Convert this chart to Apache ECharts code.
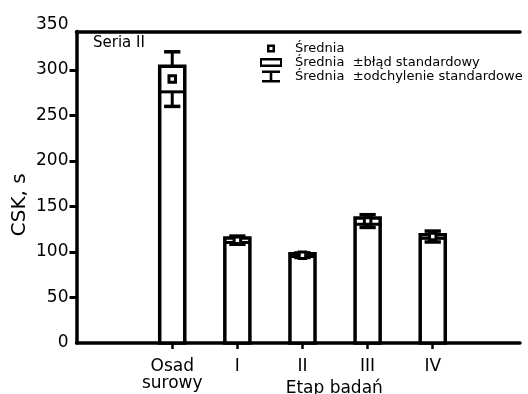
<!DOCTYPE html>
<html><head><meta charset="utf-8">
<script src="https://cdn.jsdelivr.net/npm/echarts@6/dist/echarts.min.js"></script>
<style>html,body{margin:0;padding:0;background:#fff}#c{width:528px;height:394px}</style>
</head><body><div id="c"></div>
<script>
// ---- data ----
const categories = ['Osad\nsurowy', 'I', 'II', 'III', 'IV'];
const means = [290, 113, 96.5, 134, 117];
const stdErrors = [14, 2.5, 1.5, 3.5, 2];
const stdDevs = [30, 4.5, 2.5, 7, 6];
const yTickMarks = [50, 100, 150, 200, 250, 300];
const seriesNames = ['Średnia', 'Średnia  ±błąd standardowy', 'Średnia  ±odchylenie standardowe'];
const panelLabel = 'Seria II';
const yAxisTitle = 'CSK, s';
const xAxisTitle = 'Etap badań';

const FONT = 'DejaVu Sans';
const positions = categories.map((c, i) => i + 1);
const rows = positions.map((p, i) => [p, means[i], stdErrors[i], stdDevs[i]]);

function band(api) { return api.size([1, 0])[0]; }

function renderSE(params, api) {
  const x = api.value(0), m = api.value(1), se = api.value(2);
  const w = band(api) * 0.385;
  const b = api.coord([x, 0]), t = api.coord([x, m + se]), l = api.coord([x, m - se]);
  return { type: 'group', children: [
    { type: 'rect', shape: { x: b[0] - w / 2, y: t[1], width: w, height: b[1] - t[1] },
      style: { fill: '#fff', stroke: '#000', lineWidth: 3.5 } },
    { type: 'line', shape: { x1: b[0] - w / 2, y1: l[1], x2: b[0] + w / 2, y2: l[1] },
      style: { stroke: '#000', lineWidth: 3 } }
  ]};
}
function renderSD(params, api) {
  const x = api.value(0), m = api.value(1), se = api.value(2), sd = api.value(3);
  const cw = band(api) * 0.25;
  const hi = api.coord([x, m + sd]), lo = api.coord([x, m - sd]);
  const bh = api.coord([x, m + se]), bl = api.coord([x, m - se]);
  const cx = hi[0];
  const st = { stroke: '#000', lineWidth: 3 };
  const cap = { stroke: '#000', lineWidth: 3.5 };
  return { type: 'group', children: [
    { type: 'line', shape: { x1: cx, y1: hi[1], x2: cx, y2: bh[1] }, style: st },
    { type: 'line', shape: { x1: cx, y1: bl[1], x2: cx, y2: lo[1] }, style: st },
    { type: 'line', shape: { x1: cx - cw / 2, y1: hi[1], x2: cx + cw / 2, y2: hi[1] }, style: cap },
    { type: 'line', shape: { x1: cx - cw / 2, y1: lo[1], x2: cx + cw / 2, y2: lo[1] }, style: cap }
  ]};
}
function renderMean(params, api) {
  const p = api.coord([api.value(0), api.value(1)]);
  const s = 6.5;
  return { type: 'rect', shape: { x: p[0] - s / 2, y: p[1] - s / 2, width: s, height: s },
    style: { fill: '#fff', stroke: '#000', lineWidth: 3 } };
}

const iconMean = 'path://M0,0M38,12M15,2H23V10H15ZM17.5,4.5V7.5H20.5V4.5Z';
const iconSE = 'path://M0,0M38,12M8,1.5H30V10.5H8ZM10,4V8H28V4Z';
const iconSD = 'path://M0,0M38,12M10,0H28V2.5H20.3V9.5H28V12H10V9.5H17.7V2.5H10Z';

const lineBlack = { color: '#000', width: 3.5 };
const chart = echarts.init(document.getElementById('c'), null, { renderer: 'canvas' });
chart.setOption({
  animation: false,
  backgroundColor: '#fff',
  textStyle: { fontFamily: FONT, color: '#000' },
  title: { text: panelLabel, left: 93, top: 36, padding: 0,
    textStyle: { fontFamily: FONT, fontSize: 15, fontWeight: 'normal', color: '#000' } },
  legend: {
    orient: 'vertical', left: 252, top: 42, padding: 0,
    itemWidth: 38, itemHeight: 12, itemGap: 1, selectedMode: false,
    itemStyle: { color: '#000', borderWidth: 0 },
    textStyle: { fontFamily: FONT, fontSize: 13, lineHeight: 13, color: '#000' },
    data: [
      { name: seriesNames[0], icon: iconMean },
      { name: seriesNames[1], icon: iconSE },
      { name: seriesNames[2], icon: iconSD }
    ]
  },
  grid: [
    { left: 76.5, right: 8, top: 24.5, bottom: 51, outerBoundsMode: 'none', containLabel: false },
    { left: 76.5, right: 8, top: 31.5, bottom: 51, outerBoundsMode: 'none', containLabel: false }
  ],
  xAxis: [
    { gridIndex: 0, type: 'value', min: -0.47, max: 6.34,
      axisLine: { show: true, onZero: false, lineStyle: lineBlack },
      axisTick: { show: true, customValues: positions, length: 6, lineStyle: { color: '#000', width: 2.5 } },
      axisLabel: { customValues: positions, formatter: v => categories[Math.round(v) - 1],
        margin: 15, fontSize: 17, lineHeight: 17, color: '#000', fontFamily: FONT },
      splitLine: { show: false },
      name: xAxisTitle, nameLocation: 'middle', nameGap: 37, nameMoveOverlap: false,
      nameTextStyle: { fontSize: 17, color: '#000', fontFamily: FONT, padding: [0, 0, 0, 72] } },
    { gridIndex: 1, type: 'value', position: 'top', min: 0, max: 1,
      axisLine: { show: true, onZero: false, lineStyle: lineBlack },
      axisTick: { show: false }, axisLabel: { show: false }, splitLine: { show: false } }
  ],
  yAxis: [
    { gridIndex: 0, type: 'value', min: 0, max: 350, interval: 50,
      axisLine: { show: false, onZero: false },
      axisTick: { show: true, customValues: yTickMarks, length: 7, lineStyle: { color: '#000', width: 3 } },
      axisLabel: { margin: 8, fontSize: 17, color: '#000', fontFamily: FONT },
      splitLine: { show: false },
      name: yAxisTitle, nameLocation: 'middle', nameGap: 47, nameRotate: 90, nameMoveOverlap: false,
      nameTextStyle: { fontSize: 20, color: '#000', fontFamily: FONT, padding: [0, 42, 0, 0] } },
    { gridIndex: 1, type: 'value', min: 0, max: 1,
      axisLine: { show: true, onZero: false, lineStyle: lineBlack },
      axisTick: { show: false }, axisLabel: { show: false }, splitLine: { show: false } }
  ],
  series: [
    { name: seriesNames[1], type: 'custom', xAxisIndex: 0, yAxisIndex: 0, silent: true,
      itemStyle: { color: '#000' }, encode: { x: 0, y: 1 }, data: rows, renderItem: renderSE },
    { name: seriesNames[2], type: 'custom', xAxisIndex: 0, yAxisIndex: 0, silent: true,
      itemStyle: { color: '#000' }, encode: { x: 0, y: 1 }, data: rows, renderItem: renderSD },
    { name: seriesNames[0], type: 'custom', xAxisIndex: 0, yAxisIndex: 0, silent: true,
      itemStyle: { color: '#000' }, encode: { x: 0, y: 1 }, data: rows, renderItem: renderMean }
  ]
});
</script></body></html>
